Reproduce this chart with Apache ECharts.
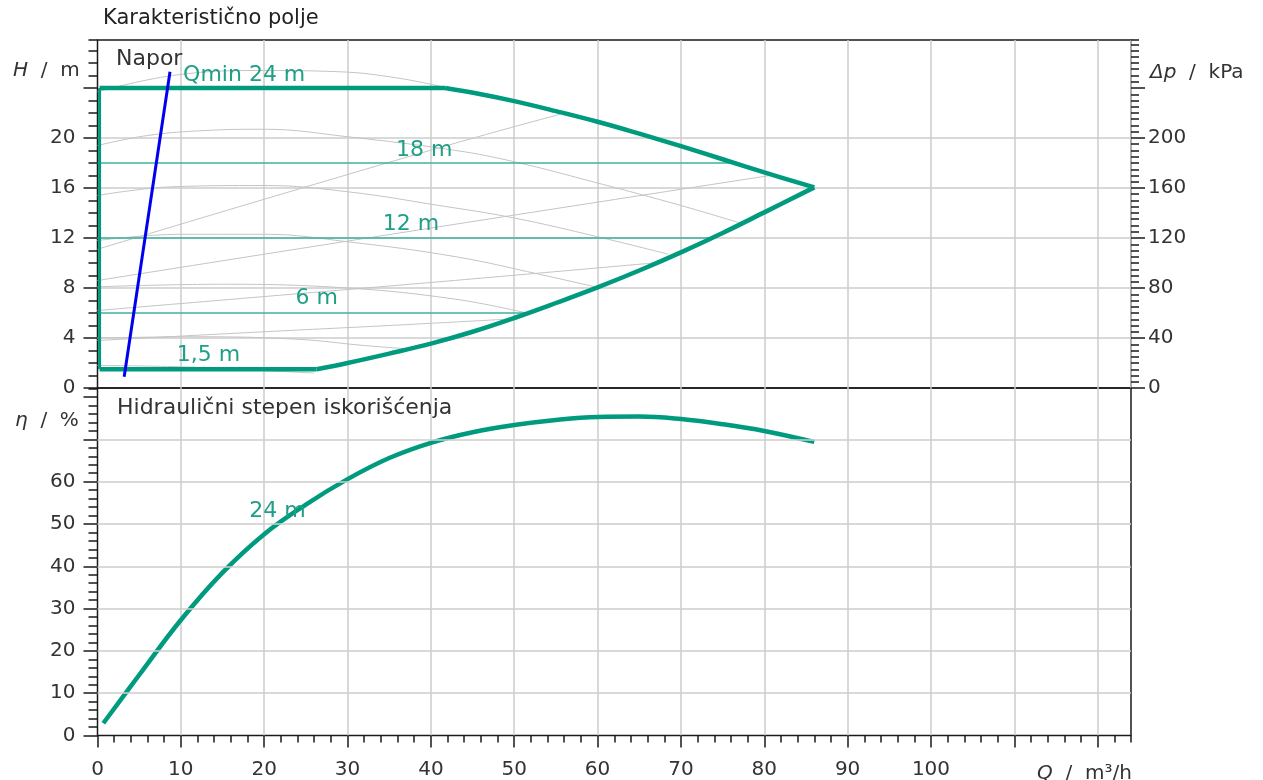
<!DOCTYPE html>
<html><head><meta charset="utf-8">
<script src="https://cdn.jsdelivr.net/npm/echarts@6/dist/echarts.min.js"></script>
<style>html,body{margin:0;padding:0;background:#fff}#c{width:1263px;height:780px}</style>
</head><body><div id="c"></div>
<script>
// ---- tick labels ----
const xTickLabels = [0,10,20,30,40,50,60,70,80,90,100];
const xMajorTicks = [0,10,20,30,40,50,60,70,80,90,100,110,120];
const hTickLabels = [0,4,8,12,16,20];
const hMajorTicks = [0,4,8,12,16,20,24];
const dpTickLabels = [0,40,80,120,160,200];
const dpMajorTicks = [0,40,80,120,160,200,240];
const etaTickLabels = [0,10,20,30,40,50,60];
const etaMajorTicks = [0,10,20,30,40,50,60,70,80];
const etaGridValues = [10,20,30,40,50,60,70];

// ---- head (H, m) vs flow (Q, m3/h) ----
const envLeft   = [[0.25,1.5],[0.25,24]];
const envTop    = [[0.25,24],[41.7,24]];
const envMax    = [[41.7,24],[46,23.5],[50,22.95],[55,22.15],[60,21.3],[65,20.35],[70,19.35],[75,18.3],[80,17.25],[86,16.05]];
const envMin    = [[86,16.05],[80,14.05],[75,12.4],[70,10.85],[65,9.4],[60,8.05],[55,6.8],[50,5.6],[45,4.5],[40,3.55],[35,2.75],[30,2.0],[26.3,1.5]];
const envBottom = [[0.25,1.5],[26.3,1.5]];
const dpc18 = [[0,18],[76.3,18]];
const dpc12 = [[0,12],[73.7,12]];
const dpc6  = [[0,6],[51.5,6]];
const qmin  = [[3.2,0.9],[8.7,25.3]];

// gray pump curves (descending)
const pumpA = [[0,23.7],[9,25.0],[19,25.4],[29,25.3],[36,24.8],[42,24.0]];
const pumpB = [[0,19.4],[6,20.2],[13,20.6],[20,20.7],[30,20.1],[43,19.0],[50,18.1],[60,16.4],[70,14.6],[77.1,13.2]];
const pumpC = [[0,15.4],[9,16.1],[20,16.2],[30,15.7],[41,14.6],[50,13.6],[60,12.1],[68.5,10.7]];
const pumpD = [[0,11.8],[10,12.3],[20,12.3],[30,11.7],[43,10.5],[53,9.1],[60.3,8.0]];
const pumpE = [[0,8.1],[15,8.3],[30,8.0],[43,7.1],[51.5,6.0]];
const pumpF = [[0,4.0],[12,4.1],[24,3.9],[32,3.4],[38,3.1]];
const pumpG = [[0,1.8],[10,1.7],[18,1.45],[26,1.2]];
// gray rising lines
const riseA = [[0,11.1],[20,15.1],[43,19.6],[55.5,21.9]];
const riseB = [[0,8.6],[41,12.9],[80.7,17.0]];
const riseC = [[0,6.2],[41,8.5],[66.7,10.0]];
const riseD = [[0,3.8],[20,4.5],[35,5.0],[49,5.5]];

// ---- efficiency (eta, %) vs flow ----
const eta24 = [[0.7,2.9],[5,14.3],[10,27.3],[15,38.5],[20,47.6],[25,54.6],[30,60.6],[35,65.6],[40,69.2],[45,71.7],[50,73.4],[55,74.6],[60,75.3],[65,75.4],[70,74.8],[75,73.6],[80,72.0],[86,69.4]];

const TEAL = '#009b7f', TEAL_THIN = '#3cb39b', GRAY = '#c4c4c4', GRID = '#cccccc', INK = '#1a1a1a', TXT = '#333';
const FF = 'DejaVu Sans';

function ln(data, color, width, opts) {
  return Object.assign({type:'line', data, xAxisIndex:0, yAxisIndex:0, showSymbol:false, symbol:'none',
    lineStyle:{color, width}, silent:true, animation:false}, opts || {});
}
function lbl(coord, text, color) {
  return {symbol:'circle', symbolSize:0, silent:true,
    label:{show:true, position:'inside', formatter:text, color:color||'#1f9f86', fontFamily:FF, fontSize:22},
    data:[{coord}]};
}
const grayCurves = [pumpA,pumpB,pumpC,pumpD,pumpE,pumpF,pumpG,riseA,riseB,riseC,riseD]
  .map(d => ln(d, GRAY, 1, {smooth:0.4, z:1}));

const tickStyle = {lineStyle:{color:INK, width:1.5}};
const labelStyle = {color:TXT, fontFamily:FF, fontSize:20};
const splitX = {show:true, showMinLine:false, lineStyle:{color:GRID, width:1.5}};
const splitY = {show:true, showMinLine:false, showMaxLine:false, lineStyle:{color:GRID, width:1.5}};
const show = arr => (v => arr.indexOf(Math.round(v*100)/100) >= 0 ? String(v) : '');

const chart = echarts.init(document.getElementById('c'));
const T = (text, left, top, size, color) => ({text, left, top,
  textStyle:{fontFamily:FF, fontSize:size, fontWeight:'normal', color:color||TXT,
    rich:{i:{fontStyle:'italic', fontFamily:FF, fontSize:size, color:color||TXT}}}});

chart.setOption({
  animation:false,
  backgroundColor:'#fff',
  title:[
    T('Karakteristično polje', 98, 3, 21, '#222'),
    T('Napor', 111, 43, 22),
    T('Hidraulični stepen iskorišćenja', 112, 392, 22),
    T('{i|H}  /  m', 8, 56, 20),
    T('{i|Δp}  /  kPa', 1145, 58, 20),
    T('{i|η}  /  %', 10, 406, 20),
    T('{i|Q}  /  m³/h', 1032, 759, 20)
  ],
  grid:[
    {left:97.5, right:132, top:40, height:348, show:true, borderColor:INK, borderWidth:1.5, containLabel:false},
    {left:97.5, right:132, top:388, height:347.5, show:true, borderColor:INK, borderWidth:1.5, containLabel:false}
  ],
  xAxis:[
    {gridIndex:0, type:'value', min:0, max:124, interval:10, axisLine:{show:false}, axisTick:{show:false}, axisLabel:{show:false},
      splitLine:splitX},
    {gridIndex:1, type:'value', position:'bottom', min:0, max:124, interval:10, axisLine:{show:false},
      axisTick:Object.assign({show:true, length:12, customValues:xMajorTicks}, tickStyle),
      axisLabel:Object.assign({show:true, margin:24, customValues:xTickLabels, formatter:show(xTickLabels)}, labelStyle),
      splitLine:splitX},
    {gridIndex:1, type:'value', position:'bottom', min:0, max:124, interval:2, axisLine:{show:false},
      axisTick:Object.assign({show:true, length:7}, tickStyle), axisLabel:{show:false}, splitLine:{show:false}}
  ],
  yAxis:[
    {gridIndex:0, type:'value', position:'left', min:0, max:27.84, interval:4, axisLine:{show:false},
      axisTick:Object.assign({show:true, length:14, customValues:hMajorTicks}, tickStyle),
      axisLabel:Object.assign({show:true, margin:22, customValues:hTickLabels, formatter:show(hTickLabels)}, labelStyle),
      splitLine:splitY},
    {gridIndex:0, type:'value', position:'left', min:0, max:27.84, interval:1, axisLine:{show:false},
      axisTick:Object.assign({show:true, length:9}, tickStyle), axisLabel:{show:false}, splitLine:{show:false}},
    {gridIndex:0, type:'value', position:'right', min:0, max:278.4, interval:40, axisLine:{show:false},
      axisTick:Object.assign({show:true, length:14, customValues:dpMajorTicks}, tickStyle),
      axisLabel:Object.assign({show:true, margin:17, customValues:dpTickLabels, formatter:show(dpTickLabels)}, labelStyle),
      splitLine:{show:false}},
    {gridIndex:0, type:'value', position:'right', min:0, max:278.4, interval:5, axisLine:{show:false},
      axisTick:Object.assign({show:true, length:8}, tickStyle), axisLabel:{show:false}, splitLine:{show:false}},
    {gridIndex:1, type:'value', position:'left', min:0, max:82.15, interval:10, axisLine:{show:false},
      axisTick:Object.assign({show:true, length:14, customValues:etaMajorTicks}, tickStyle),
      axisLabel:Object.assign({show:true, margin:22, customValues:etaTickLabels, formatter:show(etaTickLabels)}, labelStyle),
      splitLine:{show:false}},
    {gridIndex:1, type:'value', position:'left', min:0, max:82.15, interval:2, axisLine:{show:false},
      axisTick:Object.assign({show:true, length:9}, tickStyle), axisLabel:{show:false}, splitLine:{show:false}}
  ],
  series:[
    ...grayCurves,
    ln(dpc18, TEAL_THIN, 1.5, {z:3, markPoint:lbl([39.2,19.05], '18 m')}),
    ln(dpc12, TEAL_THIN, 1.5, {z:3, markPoint:lbl([37.6,13.1], '12 m')}),
    ln(dpc6,  TEAL_THIN, 1.5, {z:3, markPoint:lbl([26.3,7.2], '6 m')}),
    ln(envLeft, TEAL, 3, {z:4}),
    ln(envTop, TEAL, 4.5, {z:4}),
    ln(envMax, TEAL, 4.5, {z:4, smooth:0.4}),
    ln(envMin, TEAL, 4.5, {z:4, smooth:0.4}),
    ln(envBottom, TEAL, 4.5, {z:4, markPoint:lbl([13.3,2.6], '1,5 m')}),
    ln(qmin, '#0000ee', 3, {z:5, markPoint:lbl([17.6,25.05], 'Qmin 24 m')}),
    {type:'line', xAxisIndex:1, yAxisIndex:4, data:[], silent:true, z:1,
      markLine:{silent:true, symbol:['none','none'], label:{show:false}, animation:false,
        lineStyle:{color:GRID, width:1.5, type:'solid'}, data:etaGridValues.map(v => ({yAxis:v}))}},
    {type:'line', xAxisIndex:1, yAxisIndex:4, data:eta24, showSymbol:false, symbol:'none', smooth:0.4, silent:true, z:4,
      lineStyle:{color:TEAL, width:4.5}, markPoint:lbl([21.6,53.1], '24 m')}
  ]
});
</script></body></html>
